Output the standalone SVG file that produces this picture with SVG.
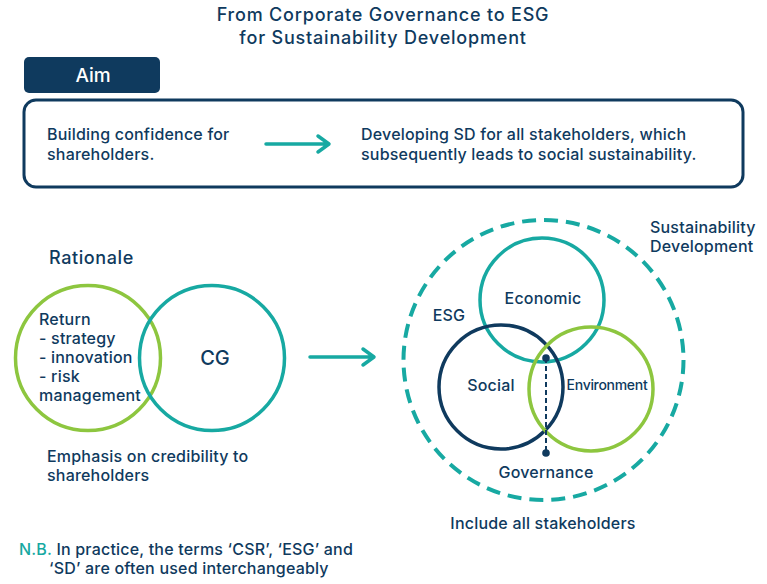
<svg xmlns="http://www.w3.org/2000/svg" width="767" height="584" viewBox="0 0 767 584">
<style>
text{font-family:Inter,"Liberation Sans",Arial,sans-serif;font-weight:500;fill:#0f3a5e}
.t{font-size:16px;letter-spacing:0.2px}
.ttl{font-size:18px;letter-spacing:0.8px;text-anchor:middle}
.c{fill:none;stroke-width:3.5}
.navy{stroke:#0f3a5e}
.teal{stroke:#17a9a2}
.green{stroke:#8dc63f}
.arr{fill:none;stroke:#17a9a2;stroke-width:3.5;stroke-linecap:round;stroke-linejoin:round}
</style>
<rect width="767" height="584" fill="#fff"/>
<g id="title">
<text class="ttl" x="383" y="21">From Corporate Governance to ESG</text>
<text class="ttl" x="383" y="44">for Sustainability Development</text>
</g>
<g id="aim-tab">
<rect x="24" y="57" width="136" height="36" rx="5" fill="#0f3a5e"/>
<text x="93" y="82" style="fill:#fff;font-size:19px;text-anchor:middle">Aim</text>
</g>
<g id="aim-box">
<rect x="24" y="100" width="719" height="87" rx="12" fill="none" stroke="#0f3a5e" stroke-width="3"/>
<text class="t" x="47" y="140">Building confidence for</text>
<text class="t" x="47" y="160">shareholders.</text>
<text class="t" x="361" y="140">Developing SD for all stakeholders, which</text>
<text class="t" x="361" y="160">subsequently leads to social sustainability.</text>
</g>
<g id="rationale">
<text x="49" y="264" style="font-size:18px;letter-spacing:0.6px">Rationale</text>
<circle class="c green" cx="88" cy="358" r="72.5"/>
<circle class="c teal" cx="212" cy="358" r="72.5"/>
<text class="t" x="39" y="325">Return</text>
<text class="t" x="39" y="344">- strategy</text>
<text class="t" x="39" y="363">- innovation</text>
<text class="t" x="39" y="382">- risk</text>
<text class="t" x="39" y="401">management</text>
<text x="215" y="365" style="font-size:20px;text-anchor:middle">CG</text>
<text class="t" x="47" y="462">Emphasis on credibility to</text>
<text class="t" x="47" y="481">shareholders</text>
</g>
<g id="connectors">
<path class="arr" d="M266 144H328M318 136L329 144L318 152"/>
<path class="arr" d="M310 357H373M363 349L374 357L363 365"/>
</g>
<g id="sd">
<circle cx="543.5" cy="360" r="140" fill="none" stroke="#17a9a2" stroke-width="4" stroke-dasharray="14 8"/>
<text class="t" x="650" y="233">Sustainability</text>
<text class="t" x="650" y="252">Development</text>
<text class="t" x="543" y="529" text-anchor="middle">Include all stakeholders</text>
</g>
<g id="esg">
<circle class="c teal" cx="542" cy="300" r="62"/>
<circle class="c navy" cx="501" cy="387" r="62"/>
<circle class="c green" cx="591" cy="389" r="62"/>
<line x1="546" y1="358" x2="546" y2="453" stroke="#0f3a5e" stroke-width="2" stroke-dasharray="5 3"/>
<circle cx="546" cy="358" r="3.8" fill="#0f3a5e"/>
<circle cx="546" cy="453" r="3.8" fill="#0f3a5e"/>
<text class="t" x="449" y="321" text-anchor="middle">ESG</text>
<text class="t" x="543" y="304" text-anchor="middle">Economic</text>
<text class="t" x="491" y="391" text-anchor="middle">Social</text>
<text x="607" y="390" style="font-size:14px;text-anchor:middle;letter-spacing:-0.3px">Environment</text>
<text class="t" x="546" y="478" text-anchor="middle">Governance</text>
</g>
<g id="note">
<text class="t" x="19" y="555"><tspan style="fill:#17a9a2">N.B.</tspan> In practice, the terms ‘CSR’, ‘ESG’ and</text>
<text class="t" x="49" y="574">‘SD’ are often used interchangeably</text>
</g>
</svg>
